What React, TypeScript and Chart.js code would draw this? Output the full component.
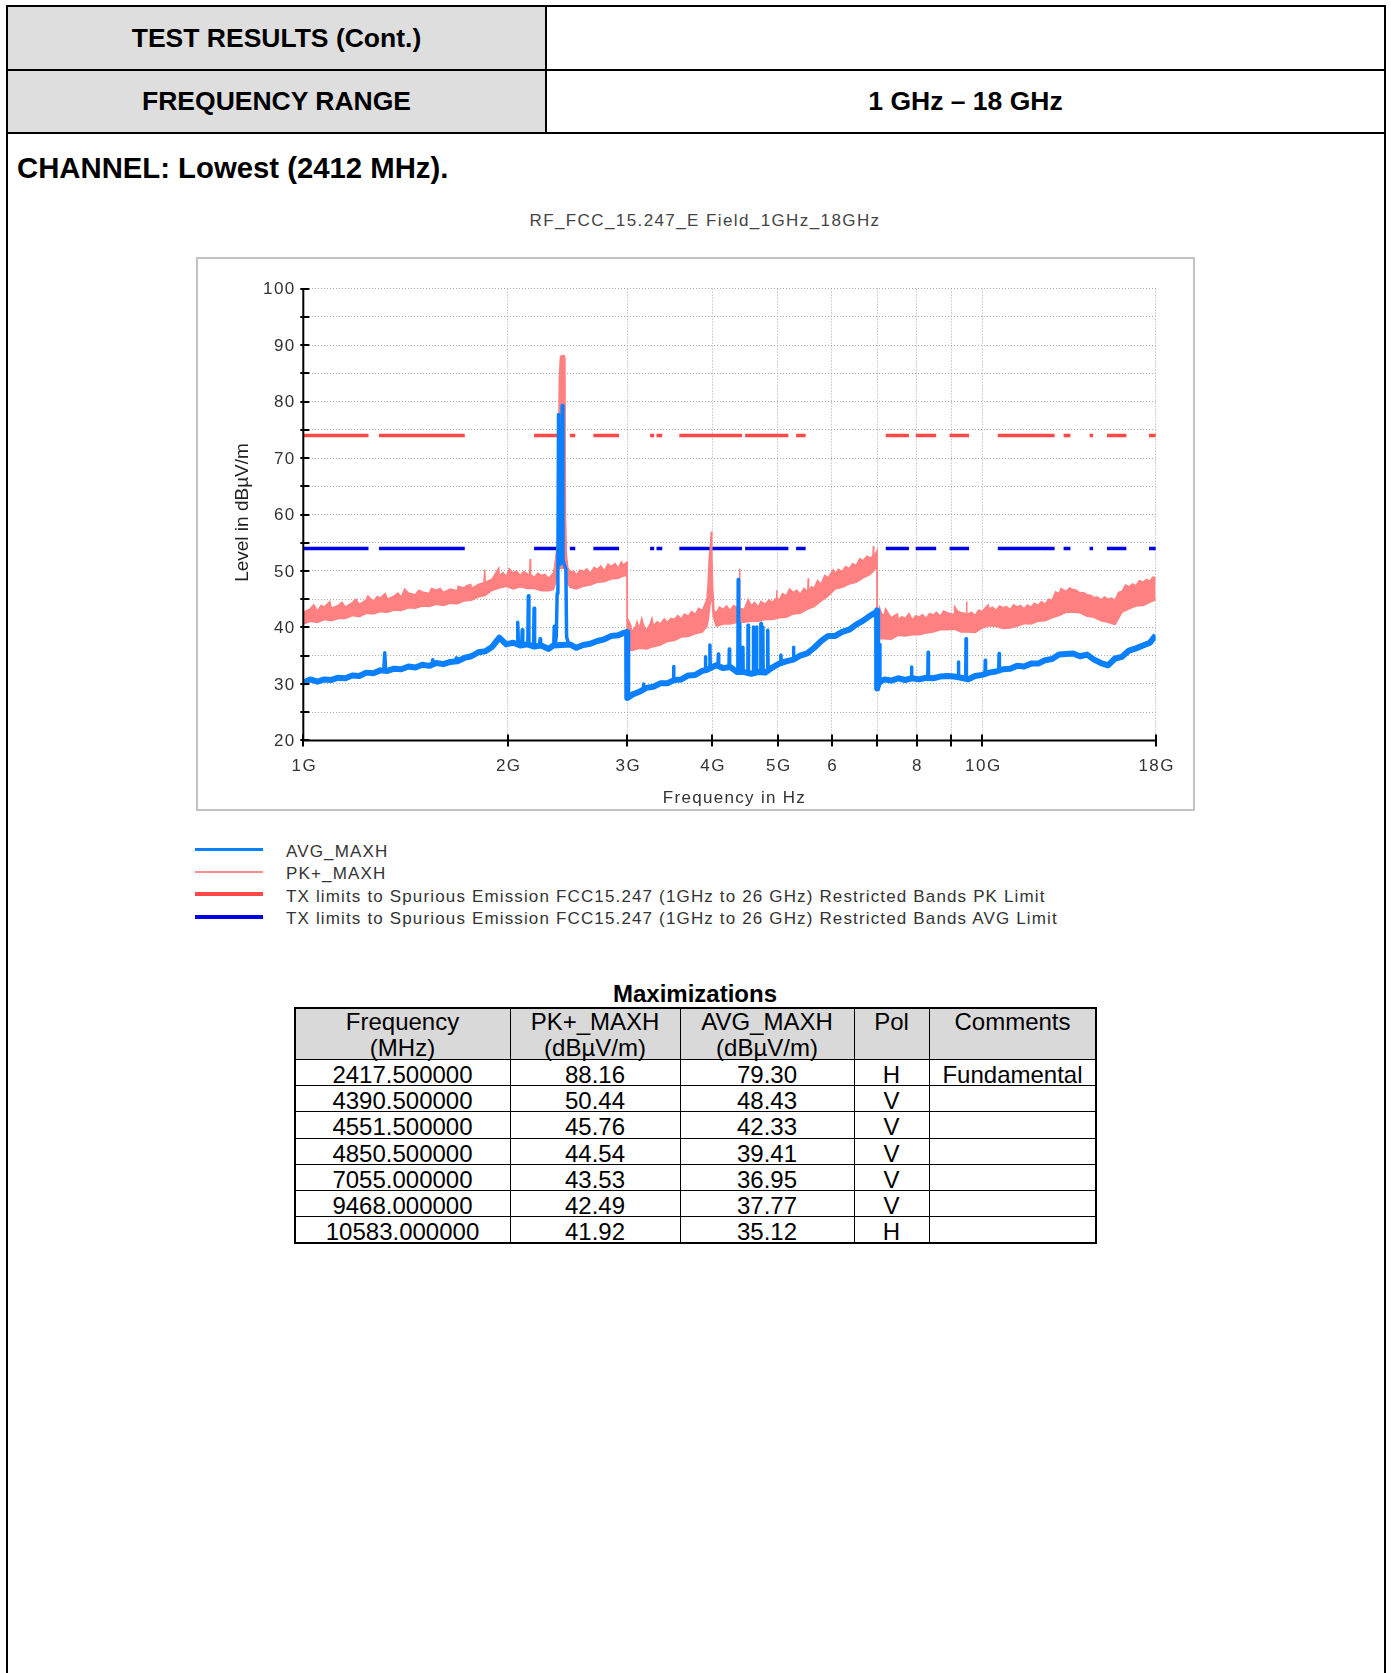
import React, { useEffect, useRef } from "react";
import { Chart, registerables } from "chart.js";

Chart.register(...registerables);

// ---------------- axes ----------------
const xTicksMHz = [1000, 2000, 3000, 4000, 5000, 6000, 7000, 8000, 9000, 10000, 18000];
const xTickLabels = ["1G", "2G", "3G", "4G", "5G", "6", "", "8", "", "10G", "18G"];
const yMin = 20;
const yMax = 100;
const yStep = 5;
const yLabelEvery = 10;

// ---------------- limits (restricted bands, MHz) ----------------
const pkLimitLevel = 74;
const avgLimitLevel = 54;
const restrictedBandsMHz: [number, number][] = [
  [960, 1240], [1300, 1427], [1435, 1626.5], [1645.5, 1646.5], [1660, 1710], [1718.8, 1722.2],
  [2200, 2300], [2310, 2390], [2483.5, 2500], [2690, 2900], [3260, 3267], [3332, 3339],
  [3345.8, 3358], [3600, 4400], [4500, 5150], [5350, 5460], [7250, 7750], [8025, 8500],
  [9000, 9200], [9300, 9500], [10600, 12700], [13250, 13400], [14470, 14500], [15350, 16200],
  [17700, 21400],
];

// ---------------- sweep (MHz) ----------------
const sweepMHz = [
  1000, 1024, 1049, 1074, 1100, 1126, 1153, 1181, 1209, 1238,
  1268, 1298, 1330, 1361, 1394, 1428, 1462, 1497, 1533, 1570,
  1608, 1646, 1686, 1726, 1768, 1810, 1854, 1898, 1944, 1990,
  2038, 2087, 2137, 2189, 2241, 2295, 2335, 2470, 2524, 2584,
  2646, 2710, 2775, 2842, 2910, 2960, 2998, 3000, 3051, 3125,
  3200, 3277, 3355, 3436, 3518, 3603, 3689, 3778, 3868, 3930,
  4056, 4154, 4253, 4356, 4460, 4567, 4677, 4789, 4904, 5022,
  5142, 5266, 5392, 5522, 5654, 5790, 5929, 6071, 6217, 6366,
  6519, 6676, 6836, 6960, 6998, 7000, 7040, 7168, 7340, 7516,
  7697, 7882, 8071, 8265, 8463, 8666, 8874, 9087, 9305, 9529,
  9757, 9992, 10232, 10477, 10729, 10986, 11250, 11520, 11796, 12080,
  12370, 12666, 12970, 13282, 13601, 13927, 14261, 14604, 14954, 15313,
  15681, 16057, 16442, 16837, 17241, 17655, 18000,
];

// PK+_MAXH trace: upper and lower edge of the noise band (dBµV/m)
const pkUpper = [
  42.7, 43.3, 42.9, 43.6, 43.4, 43.9, 43.6, 44.4, 44.1, 44.9,
  44.6, 45.2, 45.0, 45.6, 45.4, 46.1, 45.8, 46.3, 46.0, 46.6,
  46.2, 46.8, 46.5, 47.0, 46.9, 47.6, 47.9, 48.6, 49.1, 49.0,
  49.6, 49.2, 49.5, 48.9, 49.2, 48.7, 49.6, 49.8, 49.3, 49.9,
  49.6, 50.3, 50.0, 50.8, 50.5, 51.1, 51.6, 39.6, 39.2, 39.8,
  39.5, 40.3, 40.6, 40.9, 41.4, 41.5, 42.0, 42.3, 43.0, 45.0,
  42.6, 43.2, 43.0, 43.5, 43.2, 43.9, 43.6, 44.1, 44.4, 44.9,
  45.6, 46.2, 45.9, 46.4, 47.0, 47.7, 48.8, 49.5, 49.9, 50.4,
  51.0, 51.8, 52.3, 53.0, 53.6, 42.6, 42.0, 42.1, 41.7, 41.4,
  41.6, 41.3, 41.8, 41.6, 42.2, 42.0, 42.6, 42.3, 42.6, 42.4,
  42.1, 42.8, 43.3, 43.0, 43.5, 43.2, 43.6, 43.3, 43.6, 43.9,
  44.1, 44.8, 46.0, 46.4, 46.7, 46.1, 45.8, 45.3, 44.9, 45.0,
  44.8, 46.4, 47.2, 47.4, 48.0, 48.2, 48.8,
];
const pkLower = [
  40.6, 41.1, 40.9, 41.4, 41.2, 41.6, 41.6, 42.1, 41.9, 42.5,
  42.4, 42.8, 42.7, 43.1, 43.0, 43.5, 43.4, 43.8, 43.7, 44.1,
  43.9, 44.3, 44.2, 44.7, 44.8, 45.4, 45.7, 46.6, 47.0, 47.3,
  46.8, 47.2, 46.9, 46.9, 46.5, 46.5, 46.7, 47.1, 46.8, 47.3,
  47.5, 48.0, 48.1, 48.6, 48.7, 49.1, 49.2, 36.0, 35.9, 36.3,
  36.2, 36.6, 36.9, 37.5, 37.7, 38.3, 38.4, 38.9, 39.2, 40.2,
  40.2, 40.6, 40.6, 40.9, 40.9, 41.1, 41.1, 41.4, 41.4, 41.7,
  41.8, 42.4, 42.5, 43.2, 43.7, 44.7, 45.6, 46.8, 47.1, 47.7,
  48.0, 48.8, 49.4, 50.4, 50.6, 38.3, 38.0, 38.0, 37.9, 38.6,
  38.5, 38.7, 38.7, 39.0, 39.2, 39.6, 39.6, 39.7, 39.2, 39.2,
  39.1, 39.9, 40.3, 40.2, 39.8, 39.9, 40.2, 40.7, 40.6, 41.1,
  41.2, 41.7, 42.1, 42.7, 42.7, 42.6, 42.0, 41.8, 41.2, 40.9,
  40.5, 42.7, 43.3, 43.8, 43.9, 44.5, 44.9,
];
// AVG_MAXH trace (dBµV/m)
const avgLevel = [
  30.2, 30.8, 30.4, 30.8, 30.7, 31.1, 31.0, 31.5, 31.4, 32.0,
  31.9, 32.4, 32.3, 32.7, 32.6, 33.1, 32.9, 33.4, 33.2, 33.7,
  33.5, 33.9, 34.0, 34.6, 34.9, 35.6, 35.8, 36.6, 38.2, 37.0,
  37.3, 36.8, 37.0, 36.6, 36.8, 36.2, 36.8, 37.0, 36.4, 36.9,
  37.1, 37.6, 37.9, 38.5, 38.6, 39.0, 39.2, 27.5, 28.1, 28.6,
  29.3, 29.5, 30.1, 30.1, 30.7, 30.8, 31.5, 31.6, 32.3, 32.5,
  33.3, 32.8, 33.0, 32.1, 32.1, 31.8, 32.1, 32.0, 32.9, 33.6,
  34.0, 34.3, 35.0, 35.4, 36.4, 37.6, 38.5, 38.5, 39.2, 39.6,
  40.5, 41.2, 42.1, 42.6, 43.0, 29.2, 30.2, 30.8, 30.6, 31.0,
  30.7, 31.0, 30.8, 31.1, 31.0, 31.3, 31.4, 31.3, 31.1, 30.8,
  31.4, 31.6, 32.0, 32.2, 32.6, 32.7, 33.2, 33.1, 33.6, 33.6,
  34.2, 34.4, 35.2, 35.3, 35.4, 34.9, 35.2, 34.3, 33.7, 33.3,
  34.5, 34.8, 35.9, 36.3, 36.8, 37.3, 38.6,
];

// PK+ narrow spikes on the band's upper edge [MHz, dBµV/m]
const pkSpikes: [number, number][] = [
  [1036, 44.0], [1062, 43.9], [1094, 44.6], [1140, 44.5], [1195, 45.0], [1245, 45.6], [1285, 45.5],
  [1320, 46.0], [1378, 46.1], [1410, 46.8], [1480, 46.6], [1544, 46.9], [1590, 46.9], [1690, 47.3],
  [1740, 47.4], [1765, 47.6], [1845, 47.9], [1850, 50.2], [1856, 48.0], [1920, 49.6], [1940, 50.5],
  [1968, 49.7], [2010, 50.4], [2060, 50.0], [2112, 49.9],
  [2154, 49.3], [2158, 52.1], [2162, 49.3], [2215, 49.6], [2270, 49.4],
  [2345, 50.8], [2360, 53.5], [2372, 57.0], [2382, 84.0], [2392, 88.0], [2417.5, 88.16], [2428, 87.8],
  [2433, 60.0], [2440, 53.0], [2452, 50.6],
  [2500, 50.0], [2556, 50.2], [2615, 50.4], [2680, 50.6], [2742, 50.9], [2810, 51.2], [2878, 51.3], [2940, 51.6],
  [3010, 41.3], [3030, 40.6], [3088, 40.3], [3100, 41.0], [3150, 41.6], [3170, 40.4], [3240, 40.6],
  [3262, 41.6], [3320, 41.0], [3400, 41.5], [3480, 41.6], [3560, 42.1], [3640, 42.4], [3730, 42.8], [3820, 43.4],
  [3945, 47.5], [3962, 52.6], [3975, 54.0], [3988, 57.0], [3996, 53.0], [4008, 47.0], [4025, 43.0],
  [4100, 43.6], [4200, 43.8], [4300, 43.9],
  [4384, 43.5], [4390, 50.4], [4396, 43.4], [4520, 44.9], [4620, 44.4], [4720, 44.6], [4850, 44.9],
  [4975, 45.2], [4980, 46.6], [4985, 45.2], [5080, 46.0], [5200, 46.8], [5330, 46.6], [5460, 46.9],
  [5532, 46.3], [5540, 48.7], [5548, 46.3], [5600, 47.2], [5720, 48.3], [5860, 49.2], [6030, 50.2],
  [6140, 50.3], [6290, 50.8], [6440, 51.3], [6600, 52.2], [6760, 52.6],
  [6900, 52.6], [6910, 54.4], [6920, 52.7],
  [7055, 43.5], [7100, 42.5], [7200, 43.3], [7420, 42.1], [7500, 42.4], [7610, 41.9], [7800, 42.5],
  [7980, 42.1], [8160, 42.3], [8360, 42.5], [8560, 42.7], [8770, 42.9], [9100, 43.7], [9200, 42.9],
  [9470, 42.5], [9480, 44.6], [9490, 42.3], [9640, 42.7], [9880, 43.1], [10100, 43.5], [10200, 44.0],
  [10350, 43.6], [10600, 43.8], [10850, 43.7], [11120, 44.0], [11380, 43.9], [11650, 44.0], [11930, 44.3],
  [12220, 44.6], [12520, 45.0], [12820, 46.3], [13060, 46.9], [13440, 47.0], [13760, 46.6], [14090, 46.2],
  [14430, 45.7], [14780, 45.4], [15130, 45.4], [15500, 45.2], [15870, 46.2], [16250, 47.5], [16640, 47.7],
  [17040, 48.3], [17450, 48.5], [17820, 48.9],
];
const pkLowerExtra: [number, number][] = [
  [2360, 48.5], [2380, 50.5], [2430, 50.5], [2445, 48.0],
  [3950, 41.5], [3975, 44.5], [3995, 45.5], [4015, 42.0],
];
// AVG narrow emissions: each group is one spike (or the fundamental) [MHz, dBµV/m]
const avgSpikeGroups: [number, number][][] = [
  [[1314, 32.6], [1318, 35.5], [1322, 32.6]],
  [[1547, 33.3], [1551, 34.3], [1555, 33.4]],
  [[1676, 33.9], [1680, 34.6], [1684, 34.0]],
  [[2064, 37.2], [2069, 40.9], [2074, 37.1]],
  [[2097, 37.0], [2101, 39.6], [2105, 36.9]],
  [[2141, 37.0], [2145, 45.6], [2149, 36.9]],
  [[2183, 36.8], [2187, 43.4], [2191, 36.8]],
  [[2228, 36.7], [2232, 38.0], [2236, 36.7]],
  [[2338, 36.9], [2342, 40.2], [2346, 37.0]],
  [[2350, 37.0], [2358, 38.5], [2365, 46.0], [2371, 50.8], [2376, 77.7], [2381, 57.0], [2390, 51.2], [2400, 51.6],
   [2406, 79.3], [2412, 52.0], [2425, 51.0], [2436, 50.4], [2442, 38.3], [2455, 37.4]],
  [[3165, 28.9], [3170, 30.0], [3175, 29.0]],
  [[3506, 30.6], [3510, 33.1], [3514, 30.6]],
  [[3905, 32.4], [3910, 34.8], [3915, 32.5]],
  [[3965, 32.8], [3970, 36.9], [3975, 33.0]],
  [[4080, 33.1], [4085, 35.3], [4090, 33.0]],
  [[4235, 32.9], [4240, 36.2], [4245, 32.8]],
  [[4364, 32.1], [4370, 48.5], [4376, 33.0], [4384, 40.7], [4390, 40.7], [4396, 32.2]],
  [[4436, 32.0], [4440, 36.5], [4444, 32.0]],
  [[4515, 31.9], [4518, 40.4], [4523, 40.4], [4526, 31.9]],
  [[4595, 31.9], [4598, 40.1], [4603, 40.1], [4606, 32.0]],
  [[4645, 32.0], [4648, 40.1], [4653, 40.1], [4656, 32.0]],
  [[4715, 32.0], [4718, 40.7], [4723, 40.7], [4726, 32.1]],
  [[4745, 32.1], [4748, 40.1], [4753, 40.1], [4756, 32.1]],
  [[4825, 32.2], [4828, 39.5], [4833, 39.5], [4836, 32.3]],
  [[5040, 33.6], [5050, 35.1], [5060, 33.7]],
  [[5262, 34.2], [5270, 36.5], [5278, 34.3]],
  [[7040, 30.3], [7055, 37.0], [7066, 30.4]],
  [[7860, 31.0], [7866, 33.0], [7872, 31.0]],
  [[8310, 31.1], [8320, 35.6], [8330, 31.1]],
  [[9210, 31.3], [9220, 33.9], [9230, 31.3]],
  [[9450, 31.0], [9462, 38.0], [9474, 30.9]],
  [[10090, 31.8], [10100, 34.2], [10110, 31.8]],
  [[10570, 32.4], [10583, 35.4], [10596, 32.4]],
];

// ---------------- legend ----------------
const legendLabels = [
  "AVG_MAXH",
  "PK+_MAXH",
  "TX limits to Spurious Emission FCC15.247 (1GHz to 26 GHz) Restricted Bands PK Limit",
  "TX limits to Spurious Emission FCC15.247 (1GHz to 26 GHz) Restricted Bands AVG Limit",
];
const legendColors = ["#0a80ff", "#ff8c8c", "#ff4848", "#0000e6"];
const legendWidths = [3, 2, 4, 3.5];

// ---------------- maximizations table ----------------
const tableHeaders = ["Frequency\n(MHz)", "PK+_MAXH\n(dBµV/m)", "AVG_MAXH\n(dBµV/m)", "Pol", "Comments"];
const maxFreqMHz = ["2417.500000", "4390.500000", "4551.500000", "4850.500000", "7055.000000", "9468.000000", "10583.000000"];
const maxPk = ["88.16", "50.44", "45.76", "44.54", "43.53", "42.49", "41.92"];
const maxAvg = ["79.30", "48.43", "42.33", "39.41", "36.95", "37.77", "35.12"];
const maxPol = ["H", "V", "V", "V", "V", "V", "H"];
const maxComment = ["Fundamental", "", "", "", "", "", ""];

const FONT = '"Liberation Sans", Arial, Helvetica, sans-serif';

function toPoints(freqs: number[], vals: number[], extra: [number, number][]) {
  return freqs
    .map((f, i) => [f, vals[i]] as [number, number])
    .concat(extra)
    .sort((a, b) => a[0] - b[0])
    .map(([x, y]) => ({ x, y }));
}

function groupPoints(groups: [number, number][][]) {
  return groups.flatMap((g) => [
    ...g.map(([x, y]) => ({ x, y })),
    { x: g[g.length - 1][0] + 1, y: null as any },
  ]);
}

function limitPoints(level: number) {
  return restrictedBandsMHz.flatMap(([s, e]) => [
    { x: s, y: level },
    { x: e, y: level },
    { x: e, y: null as any },
  ]);
}

const axisDecor = {
  id: "axisDecor",
  afterDatasetsDraw(chart: any) {
    const { ctx, chartArea } = chart;
    const { left, right, top, bottom } = chartArea;
    const xs = chart.scales.x;
    const ys = chart.scales.y;
    ctx.save();
    ctx.strokeStyle = "#000";
    ctx.lineWidth = 2;
    ctx.beginPath();
    ctx.moveTo(left, top);
    ctx.lineTo(left, bottom + 1);
    ctx.moveTo(left - 1, bottom);
    ctx.lineTo(right, bottom);
    ctx.stroke();
    ctx.beginPath();
    for (let v = yMin; v <= yMax; v += yStep) {
      const py = Math.round(ys.getPixelForValue(v));
      ctx.moveTo(left - 3, py);
      ctx.lineTo(left + 6, py);
    }
    for (const f of xTicksMHz) {
      const px = Math.round(xs.getPixelForValue(f));
      ctx.moveTo(px, bottom - 6);
      ctx.lineTo(px, bottom + 6);
    }
    ctx.stroke();

    ctx.fillStyle = "#333";
    ctx.font = `17px ${FONT}`;
    ctx.letterSpacing = "1.5px";
    ctx.textAlign = "right";
    ctx.textBaseline = "middle";
    for (let v = yMin; v <= yMax; v += yLabelEvery) {
      ctx.fillText(String(v), left - 7.5, ys.getPixelForValue(v) + 1);
    }
    ctx.textAlign = "center";
    xTicksMHz.forEach((f, i) => {
      if (xTickLabels[i]) ctx.fillText(xTickLabels[i], xs.getPixelForValue(f) + 1, bottom + 26);
    });
    ctx.letterSpacing = "1.3px";
    ctx.fillText("Frequency in Hz", (left + right) / 2 + 5, bottom + 58);

    ctx.letterSpacing = "0px";
    ctx.fillStyle = "#222";
    ctx.font = `19px ${FONT}`;
    ctx.translate(left - 61, (top + bottom) / 2 - 2);
    ctx.rotate(-Math.PI / 2);
    ctx.fillText("Level in dBµV/m", 0, 0);
    ctx.restore();
  },
};

function EmissionChart() {
  const ref = useRef<HTMLCanvasElement>(null);
  useEffect(() => {
    const canvas = ref.current;
    if (!canvas) return;
    const avgPts = toPoints(sweepMHz, avgLevel, []);
    const avgSpikePts = groupPoints(avgSpikeGroups);
    const pkHiPts = toPoints(sweepMHz, pkUpper, pkSpikes);
    const pkLoPts = toPoints(sweepMHz, pkLower, pkLowerExtra);
    const gridCommon = { color: "#a8a8a8", lineWidth: 1, drawTicks: false };
    const chart = new Chart(canvas, {
      type: "line",
      data: {
        datasets: [
          {
            label: "AVG_MAXH spikes",
            data: avgSpikePts,
            borderColor: "#0a80ff",
            borderWidth: 3.5,
            borderJoinStyle: "round",
            pointRadius: 0,
            spanGaps: false,
            fill: false,
          },
          {
            label: "AVG_MAXH",
            data: avgPts,
            borderColor: "#0a80ff",
            borderWidth: 6,
            borderJoinStyle: "round",
            pointRadius: 0,
            fill: false,
          },
          {
            label: "PK+_MAXH",
            data: pkHiPts,
            borderColor: "#ff8080",
            backgroundColor: "#ff8080",
            borderWidth: 1.5,
            pointRadius: 0,
            fill: "+1",
          },
          {
            label: "PK+_MAXH low",
            data: pkLoPts,
            borderColor: "#ff8080",
            borderWidth: 1.5,
            pointRadius: 0,
            fill: false,
          },
          {
            label: "AVG Limit",
            data: limitPoints(avgLimitLevel),
            borderColor: "#0000e6",
            borderWidth: 3.5,
            borderCapStyle: "square",
            pointRadius: 0,
            spanGaps: false,
            fill: false,
          },
          {
            label: "PK Limit",
            data: limitPoints(pkLimitLevel),
            borderColor: "#ff4848",
            borderWidth: 3.5,
            borderCapStyle: "square",
            pointRadius: 0,
            spanGaps: false,
            fill: false,
          },
        ] as any,
      },
      options: {
        animation: false,
        responsive: false,
        devicePixelRatio: 1,
        events: [],
        layout: { padding: { left: 0, top: 29.6, right: 37.3, bottom: 0 } },
        plugins: {
          legend: { display: false },
          tooltip: { enabled: false },
          title: { display: false },
        },
        scales: {
          x: {
            type: "logarithmic",
            min: 1000,
            max: 18000,
            afterBuildTicks: (s: any) => {
              s.ticks = xTicksMHz.map((v) => ({ value: v }));
            },
            afterFit: (s: any) => {
              s.height = 68.6;
            },
            ticks: { display: false },
            grid: gridCommon,
            border: { display: false, dash: [1, 2] },
          },
          y: {
            type: "linear",
            min: yMin,
            max: yMax,
            ticks: { display: false, stepSize: yStep },
            afterFit: (s: any) => {
              s.width = 105.3;
            },
            grid: gridCommon,
            border: { display: false, dash: [1, 2] },
          },
        } as any,
      },
      plugins: [axisDecor],
    });
    return () => chart.destroy();
  }, []);
  return <canvas ref={ref} width={995} height={550} style={{ position: "absolute", left: 198, top: 259, width: 995, height: 550 }} />;
}

const abs = (l: number, t: number, w: number, h: number, extra: React.CSSProperties = {}): React.CSSProperties => ({
  position: "absolute",
  left: l,
  top: t,
  width: w,
  height: h,
  ...extra,
});

function MaxTable() {
  const colEdges = [295, 510, 680, 854, 929, 1096];
  const rowEdges = [1008, 1059, 1085, 1111, 1138, 1164, 1190, 1216, 1243];
  const rows = maxFreqMHz.map((f, i) => [f, maxPk[i], maxAvg[i], maxPol[i], maxComment[i]]);
  const left = colEdges[0];
  const right = colEdges[colEdges.length - 1];
  const topY = rowEdges[0];
  const botY = rowEdges[rowEdges.length - 1];
  const els: React.ReactNode[] = [];
  els.push(<div key="hbg" style={abs(left, topY, right - left, rowEdges[1] - topY, { background: "#d9d9d9" })} />);
  tableHeaders.forEach((h, c) => {
    els.push(
      <div
        key={"h" + c}
        style={abs(colEdges[c], topY + 1, colEdges[c + 1] - colEdges[c], 52, {
          textAlign: "center",
          fontSize: 24,
          lineHeight: "26px",
          whiteSpace: "pre",
          color: "#000",
        })}
      >
        {h}
      </div>
    );
  });
  rows.forEach((r, ri) => {
    r.forEach((v, c) => {
      els.push(
        <div
          key={"c" + ri + "_" + c}
          style={abs(colEdges[c], rowEdges[ri + 1] + 2.5, colEdges[c + 1] - colEdges[c], 26, {
            textAlign: "center",
            fontSize: 24,
            lineHeight: "26px",
            whiteSpace: "pre",
            color: "#000",
          })}
        >
          {v}
        </div>
      );
    });
  });
  rowEdges.forEach((y, i) => {
    const outer = i === 0 || i === rowEdges.length - 1;
    els.push(<div key={"hl" + i} style={abs(left, y - (outer ? 1 : 0.5), right - left, outer ? 2 : 1, { background: "#000" })} />);
  });
  colEdges.forEach((x, i) => {
    const outer = i === 0 || i === colEdges.length - 1;
    els.push(<div key={"vl" + i} style={abs(x - (outer ? 1 : 0.5), topY - 1, outer ? 2 : 1, botY - topY + 2, { background: "#000" })} />);
  });
  return (
    <>
      <div
        style={abs(395, 981, 600, 26, {
          textAlign: "center",
          fontWeight: "bold",
          fontSize: 24,
          lineHeight: "26px",
          color: "#000",
        })}
      >
        Maximizations
      </div>
      {els}
    </>
  );
}

export default function App() {
  const headCell: React.CSSProperties = {
    display: "flex",
    alignItems: "center",
    justifyContent: "center",
    fontWeight: "bold",
    fontSize: 26.5,
    color: "#000",
  };
  return (
    <div style={{ position: "relative", width: 1391, height: 1673, overflow: "hidden", fontFamily: FONT, background: "#fff" }}>
      <style>{`html,body{margin:0;padding:0;overflow:hidden;background:#fff;}`}</style>
      {/* outer frame */}
      <div style={abs(6, 5, 1380, 1720, { border: "2px solid #000", boxSizing: "border-box" })} />
      {/* header table */}
      <div style={abs(8, 7, 537, 62, { ...headCell, background: "#dedede" })}>TEST RESULTS (Cont.)</div>
      <div style={abs(8, 71, 537, 61, { ...headCell, background: "#dedede" })}>FREQUENCY RANGE</div>
      <div style={abs(547, 71, 837, 61, headCell)}>1 GHz – 18 GHz</div>
      <div style={abs(8, 69, 1376, 2, { background: "#000" })} />
      <div style={abs(8, 132, 1376, 2, { background: "#000" })} />
      <div style={abs(545, 7, 2, 127, { background: "#000" })} />

      <div style={abs(17, 153, 700, 29, { fontWeight: "bold", fontSize: 29.3, lineHeight: "29px", color: "#000", whiteSpace: "nowrap" })}>
        CHANNEL: Lowest (2412 MHz).
      </div>

      <div
        style={abs(405, 211, 600, 20, {
          textAlign: "center",
          fontSize: 17,
          lineHeight: "20px",
          letterSpacing: "1.4px",
          color: "#444",
          whiteSpace: "nowrap",
        })}
      >
        RF_FCC_15.247_E Field_1GHz_18GHz
      </div>

      {/* chart frame */}
      <div style={abs(196, 257, 999, 554, { border: "2px solid #c2c2c2", boxSizing: "border-box" })} />
      <EmissionChart />

      {/* legend */}
      {legendLabels.map((lab, i) => {
        const cy = 851.5 + 22.6 * i;
        const ly = cy - 2.5;
        return (
          <React.Fragment key={"lg" + i}>
            <div style={abs(195, ly - legendWidths[i] / 2, 68, legendWidths[i], { background: legendColors[i] })} />
            <div
              style={abs(286, cy - 10, 1000, 20, {
                fontSize: 17,
                lineHeight: "20px",
                letterSpacing: "1.15px",
                color: "#333",
                whiteSpace: "nowrap",
              })}
            >
              {lab}
            </div>
          </React.Fragment>
        );
      })}

      <MaxTable />
    </div>
  );
}
